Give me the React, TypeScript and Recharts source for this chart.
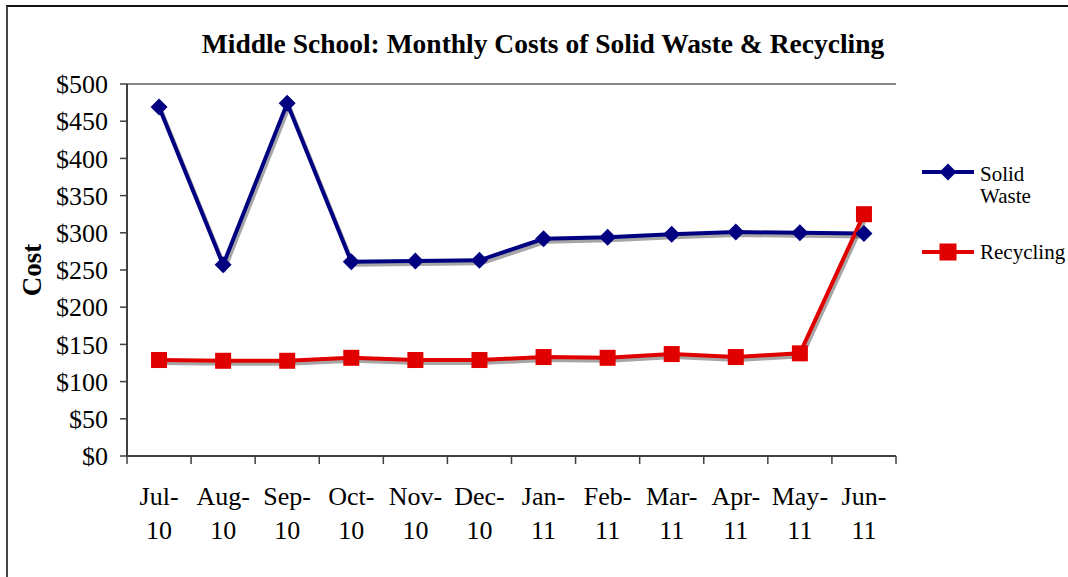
import { LineChart, Line, XAxis, YAxis, Legend, ReferenceLine } from 'recharts';

const months = ['Jul-10', 'Aug-10', 'Sep-10', 'Oct-10', 'Nov-10', 'Dec-10', 'Jan-11', 'Feb-11', 'Mar-11', 'Apr-11', 'May-11', 'Jun-11'];
const solidWaste = [469, 257, 474, 261, 262, 263, 292, 294, 298, 301, 300, 299];
const recycling = [129, 128, 128, 132, 129, 129, 133, 132, 137, 133, 138, 325];
const yTicks = [0, 50, 100, 150, 200, 250, 300, 350, 400, 450, 500];

const data = months.map((m, i) => ({ month: m, solid: solidWaste[i], recycling: recycling[i] }));

const FONT = '"Liberation Serif", "Times New Roman", serif';
const NAVY = '#000080';
const RED = '#E00000';
const AXIS = '#404040';
const FRAME = '#888';

const Diamond = (props: any) => {
  const { cx, cy } = props;
  if (cx == null || cy == null) return null;
  const r = 8.5;
  return <path d={`M${cx},${cy - r}L${cx + r},${cy}L${cx},${cy + r}L${cx - r},${cy}Z`} fill={NAVY} />;
};

const Square = (props: any) => {
  const { cx, cy } = props;
  if (cx == null || cy == null) return null;
  const s = 8;
  return <rect x={cx - s} y={cy - s} width={s * 2} height={s * 2} fill={RED} />;
};

// month label on two lines, plus tick marks on the band boundaries
const MonthTick = ({ x, y, payload, index, visibleTicksCount }: any) => {
  const [mon, yr] = String(payload.value).split('-');
  const half = payload.offset || 0;
  const last = index === visibleTicksCount - 1;
  return (
    <g>
      <line x1={x - half} y1={y} x2={x - half} y2={y + 8} stroke={AXIS} strokeWidth={1.5} />
      {last && <line x1={x + half} y1={y} x2={x + half} y2={y + 8} stroke={AXIS} strokeWidth={1.5} />}
      <text x={x} y={y} textAnchor="middle" fontFamily={FONT} fontSize={26} fill="#000">
        <tspan x={x} dy={49}>{mon}-</tspan>
        <tspan x={x} dy={34}>{yr}</tspan>
      </text>
    </g>
  );
};

const CostLabel = ({ viewBox }: any) => {
  const cy = viewBox.y + viewBox.height / 2;
  return (
    <text x={32} y={cy} transform={`rotate(-90 32 ${cy})`} textAnchor="middle" dominantBaseline="central"
      fontFamily={FONT} fontSize={27} fontWeight="bold" fill="#000">
      Cost
    </text>
  );
};

const LegendBox = () => (
  <svg width={150} height={120} style={{ overflow: 'visible' }}>
    <line x1={2} y1={12} x2={54} y2={12} stroke={NAVY} strokeWidth={4} />
    <path d="M28,3.5L36.5,12L28,20.5L19.5,12Z" fill={NAVY} />
    <text x={60} y={21} fontFamily={FONT} fontSize={21} fill="#000">Solid</text>
    <text x={60} y={43} fontFamily={FONT} fontSize={21} fill="#000">Waste</text>
    <line x1={2} y1={92} x2={54} y2={92} stroke={RED} strokeWidth={4} />
    <rect x={19.5} y={83.5} width={17} height={17} fill={RED} />
    <text x={60} y={99} fontFamily={FONT} fontSize={21} fill="#000">Recycling</text>
  </svg>
);

export default function App() {
  return (
    <div style={{ position: 'absolute', left: 0, top: 0, width: 1068, height: 577, background: '#fff', overflow: 'hidden' }}>
      <style>{`.shadowed { filter: drop-shadow(2px 3px 0.5px rgba(0,0,0,0.35)); }`}</style>
      <div style={{ position: 'absolute', left: 6, top: 5, width: 1100, height: 620, borderTop: '2px solid #111', borderLeft: '2px solid #444' }} />
      <div style={{ position: 'absolute', left: 0, top: 28, width: 1086, textAlign: 'center', fontFamily: FONT, fontWeight: 'bold', fontSize: 27.5, lineHeight: '32px' }}>
        Middle School: Monthly Costs of Solid Waste &amp; Recycling
      </div>
      <div style={{ position: 'absolute', left: 0, top: 0 }}>
        <LineChart width={1068} height={577} data={data} margin={{ top: 84, right: 172, left: 0, bottom: 41 }}>
          <XAxis dataKey="month" scale="band" height={80} tickLine={false} tickSize={0} tickMargin={0}
            axisLine={{ stroke: AXIS, strokeWidth: 2 }} interval={0} tick={<MonthTick />} />
          <YAxis domain={[0, 500]} ticks={yTicks} width={127} tickSize={7} tickMargin={12} interval={0}
            tickFormatter={(v) => `$${v}`} tick={{ fontFamily: FONT, fontSize: 26, fill: '#000' }}
            tickLine={{ stroke: AXIS, strokeWidth: 1.5 }} axisLine={{ stroke: AXIS, strokeWidth: 2 }}
            label={<CostLabel />} />
          <YAxis yAxisId="right" orientation="right" width={0} domain={[0, 500]} ticks={yTicks}
            tick={false} tickLine={false} axisLine={{ stroke: FRAME, strokeWidth: 2 }} />
          <ReferenceLine y={500} stroke={FRAME} strokeWidth={2} />
          <Legend layout="horizontal" verticalAlign="middle" align="center" content={<LegendBox />}
            wrapperStyle={{ position: 'absolute', left: 920, top: 160, width: 150, height: 120 }} />
          <Line type="linear" dataKey="solid" name="Solid Waste" stroke={NAVY} strokeWidth={4} className="shadowed"
            dot={(p: any) => <Diamond {...p} key={p.key} />} activeDot={false} isAnimationActive={false} />
          <Line type="linear" dataKey="recycling" name="Recycling" yAxisId="right" stroke={RED} strokeWidth={4} className="shadowed"
            dot={(p: any) => <Square {...p} key={p.key} />} activeDot={false} isAnimationActive={false} />
        </LineChart>
      </div>
    </div>
  );
}
